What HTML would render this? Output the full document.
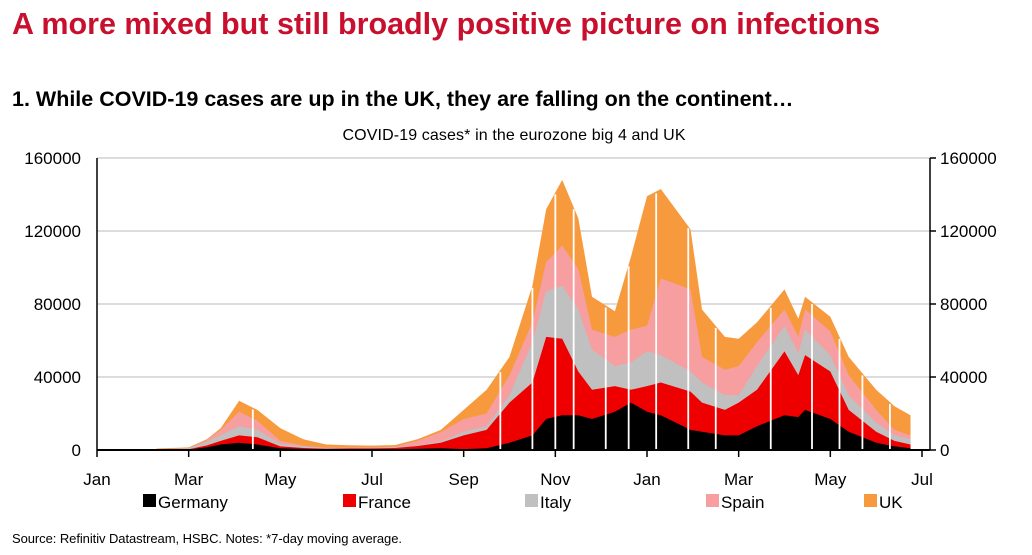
<!DOCTYPE html>
<html><head><meta charset="utf-8"><style>
body{margin:0;background:#fff;width:1032px;height:555px;overflow:hidden;font-family:"Liberation Sans",sans-serif}
svg{position:absolute;left:0;top:0}
</style></head><body>
<svg width="1032" height="555">
<text x="12" y="34" font-size="30.5" font-weight="bold" fill="#c8102e">A more mixed but still broadly positive picture on infections</text>
<text x="12" y="106" font-size="21.5" font-weight="bold" fill="#000">1. While COVID-19 cases are up in the UK, they are falling on the continent…</text>
<text x="514" y="140" font-size="16" text-anchor="middle" fill="#000" textLength="343">COVID-19 cases* in the eurozone big 4 and UK</text>
<g id="grid"></g><g id="areas"></g><g id="gaps"></g><g id="axes"></g><g id="legend"></g>
<text x="12" y="543" font-size="13" fill="#000" textLength="390">Source: Refinitiv Datastream, HSBC. Notes: *7-day moving average.</text>
</svg>
<script>
const months=[1.3,2,2.4,2.7,3.1,3.5,4,4.5,5,5.5,6,6.5,7,7.5,8,8.5,9,9.5,9.8,10.15,10.5,10.8,11.3,11.65,12,12.3,12.95,13.2,13.7,14,14.4,15,15.3,15.45,16,16.4,17,17.4,17.75];
const germany=[0,0.2,1.5,3,4,3,1,0.6,0.4,0.4,0.4,0.5,0.7,1,0.5,1,4,8,17,19,19,17,21,26,21,19,11,10,8,8,13,19,18,22,17,10,4,2,1];
const france=[0,0.2,1,2,4,4,1,0.5,0.3,0.5,0.5,0.6,1.5,3,7.5,10,22,29,45,42,24,16,14,7,14,18,21,16,14,18,20,35,23,30,26,12,6,3,2];
const italy=[0,0.5,2,3,5,4,1.5,0.8,0.3,0.2,0.2,0.2,0.4,0.8,2,2,4,22,25,29,34,22,11,15,19,15,11,11,8,4,13,14,12,14,9,8,5,3,3];
const spain=[0.2,0.2,1,3,8,5,1.5,0.5,0.3,0.3,0.3,0.5,2.5,5,7,7,11,11,16,22,22,11,16,18,14,42,45,14,14,16,13,9,9,11,13,11,7,3,2];
const uk=[0.6,0.3,0.5,1,6,6,7,3.5,1.7,1.2,1,0.9,0.9,1.2,5,13,10,20,29,36,28,18,14,40,71,49,33,26,18,15,11,11,10,7,8,10,11,13,11];
const seriesNames=["Germany","France","Italy","Spain","UK"];
const colors=["#000000","#ee0000","#c0c0c0","#f79ea0","#f79a3e"];
const yTicks=[0,40000,80000,120000,160000];
const xLabels=["Jan","Mar","May","Jul","Sep","Nov","Jan","Mar","May","Jul"];
const gapMonths=[3.4,8.8,9.5,10.0,10.4,11.1,11.6,12.2,12.9,13.5,14.7,15.6,16.2,16.7,17.3];
const NS="http://www.w3.org/2000/svg";
const X0=97,X1=922,Y0=450,Y1=158;
const xs=m=>X0+m*(X1-X0)/18;
const ys=v=>Y0-v*(Y0-Y1)/160000;
function mk(t,a,p){const e=document.createElementNS(NS,t);for(const k in a)e.setAttribute(k,a[k]);p.appendChild(e);return e;}
const grid=document.getElementById('grid'),areas=document.getElementById('areas'),gaps=document.getElementById('gaps'),axes=document.getElementById('axes'),legend=document.getElementById('legend');
yTicks.forEach(v=>{if(v>0){const g=mk('line',{x1:X0,x2:930,y1:ys(v),y2:ys(v),stroke:'#d0d0d0','stroke-width':1.5},grid);

}
const l=mk('text',{x:81,y:ys(v)+6,'font-size':17,'text-anchor':'end'},axes);l.textContent=v;


const r=mk('text',{x:940,y:ys(v)+6,'font-size':17},axes);r.textContent=v;


mk('line',{x1:930,x2:936,y1:ys(v),y2:ys(v),stroke:'#000','stroke-width':1.5},axes);});
const data=[germany,france,italy,spain,uk];
const cum=months.map(()=>0);
const layers=[];
data.forEach(s=>{const lo=cum.slice();s.forEach((v,i)=>cum[i]+=v*1000);layers.push([lo,cum.slice()]);});
for(let k=4;k>=0;k--){const hi=layers[k][1];
let d='M'+xs(months[0])+','+ys(0);
months.forEach((m,i)=>{d+='L'+xs(m).toFixed(1)+','+ys(hi[i]).toFixed(1);});
d+='L'+xs(months[months.length-1])+','+ys(0)+'Z';
const p=mk('path',{d:d,fill:colors[k]},areas);

}
function totalAt(m){for(let i=0;i<months.length-1;i++){if(m>=months[i]&&m<=months[i+1]){const t=(m-months[i])/(months[i+1]-months[i]);return cum[i]+(cum[i+1]-cum[i])*t;}}return 0;}
gapMonths.forEach(m=>{const g=mk('line',{x1:xs(m),x2:xs(m),y1:ys(totalAt(m))+2,y2:Y0,stroke:'#fff','stroke-width':1.8},gaps);

});
mk('line',{x1:X0,x2:X0,y1:Y1,y2:Y0,stroke:'#000','stroke-width':1.5},axes);
mk('line',{x1:930,x2:930,y1:Y1,y2:Y0,stroke:'#000','stroke-width':1.5},axes);
mk('line',{x1:X0,x2:930,y1:Y0,y2:Y0,stroke:'#000','stroke-width':2},axes);
xLabels.forEach((t,i)=>{const x=xs(i*2);mk('line',{x1:x,x2:x,y1:Y0,y2:Y0+7,stroke:'#000','stroke-width':1.5},axes);
const l=mk('text',{x:x,y:485,'font-size':17,'text-anchor':'middle'},axes);l.textContent=t;

});
const lx=[143,343,525,706,864];
seriesNames.forEach((n,i)=>{const g=mk('g',{},legend);


mk('rect',{x:lx[i],y:494,width:13,height:13,fill:colors[i]},g);
const t=mk('text',{x:lx[i]+15,y:508,'font-size':17},g);t.textContent=n;});
</script>
</body></html>
